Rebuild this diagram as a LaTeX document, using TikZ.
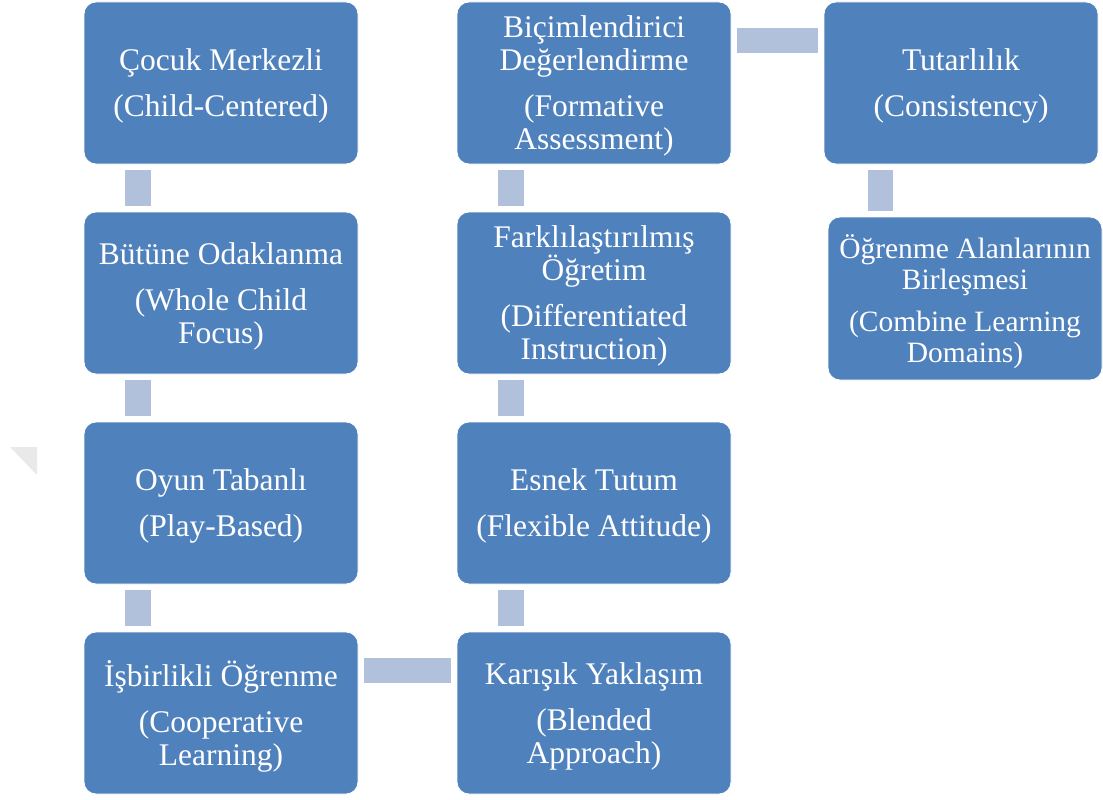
\documentclass[tikz,border=0pt]{standalone}
\usepackage{fontspec}
\setmainfont{Liberation Serif}
\definecolor{boxblue}{HTML}{4F81BD}
\definecolor{connblue}{HTML}{B2C1DB}
\tikzset{
  box/.style={draw=white, line width=0.8pt, fill=boxblue, rounded corners=12pt,
    minimum width=274pt, minimum height=162pt, inner sep=0pt},
  txt/.style={text=white, align=center, inner sep=0pt, yshift=-3pt,
    font=\fontsize{31.5}{33}\selectfont},
  smalltxt/.style={txt, font=\fontsize{29.5}{31}\selectfont},
  conn/.style={draw=connblue, line width=25.5pt, line cap=butt, shorten <=6pt, shorten >=6pt}
}
\begin{document}
\begin{tikzpicture}[x=1pt,y=-1pt]
\useasboundingbox (0,0) rectangle (1103,800);
\fill[gray!17] (10,447) -- (37,447) -- (37,475) -- cycle;
% column 1
\node[box, label={[txt]center:{Çocuk Merkezli\\[13pt](Child-Centered)}}] (a1) at (221,83) {};
\node[box, label={[txt]center:{Bütüne Odaklanma\\[13pt](Whole Child\\Focus)}}] (a2) at (221,293) {};
\node[box, label={[txt]center:{Oyun Tabanlı\\[13pt](Play-Based)}}] (a3) at (221,503) {};
\node[box, label={[txt]center:{İşbirlikli Öğrenme\\[13pt](Cooperative\\Learning)}}] (a4) at (221,713) {};
% column 2
\node[box, label={[txt]center:{Biçimlendirici\\Değerlendirme\\[13pt](Formative\\Assessment)}}] (b1) at (594,83) {};
\node[box, label={[txt]center:{Farklılaştırılmış\\Öğretim\\[13pt](Differentiated\\Instruction)}}] (b2) at (594,293) {};
\node[box, label={[txt]center:{Esnek Tutum\\[13pt](Flexible Attitude)}}] (b3) at (594,503) {};
\node[box, label={[txt]center:{Karışık Yaklaşım\\[13pt](Blended\\Approach)}}] (b4) at (594,713) {};
% column 3
\node[box, label={[txt]center:{Tutarlılık\\[13pt](Consistency)}}] (c1) at (961,83) {};
\node[box, minimum height=163pt, label={[smalltxt]center:{Öğrenme Alanlarının\\Birleşmesi\\[11pt](Combine Learning\\Domains)}}] (c2) at (965,298.5) {};
% connectors
\draw[conn] ([xshift=-83pt]a1.south) -- ([xshift=-83pt]a2.north);
\draw[conn] ([xshift=-83pt]a2.south) -- ([xshift=-83pt]a3.north);
\draw[conn] ([xshift=-83pt]a3.south) -- ([xshift=-83pt]a4.north);
\draw[conn] ([yshift=42.5pt]a4.east) -- ([yshift=42.5pt]b4.west);
\draw[conn] ([xshift=-83pt]b4.north) -- ([xshift=-83pt]b3.south);
\draw[conn] ([xshift=-83pt]b3.north) -- ([xshift=-83pt]b2.south);
\draw[conn] ([xshift=-83pt]b2.north) -- ([xshift=-83pt]b1.south);
\draw[conn] ([yshift=42.5pt]b1.east) -- ([yshift=42.5pt]c1.west);
\draw[conn] ([xshift=-80.5pt]c1.south) -- ([xshift=-80.5pt]c1.south |- c2.north);
\end{tikzpicture}
\end{document}
